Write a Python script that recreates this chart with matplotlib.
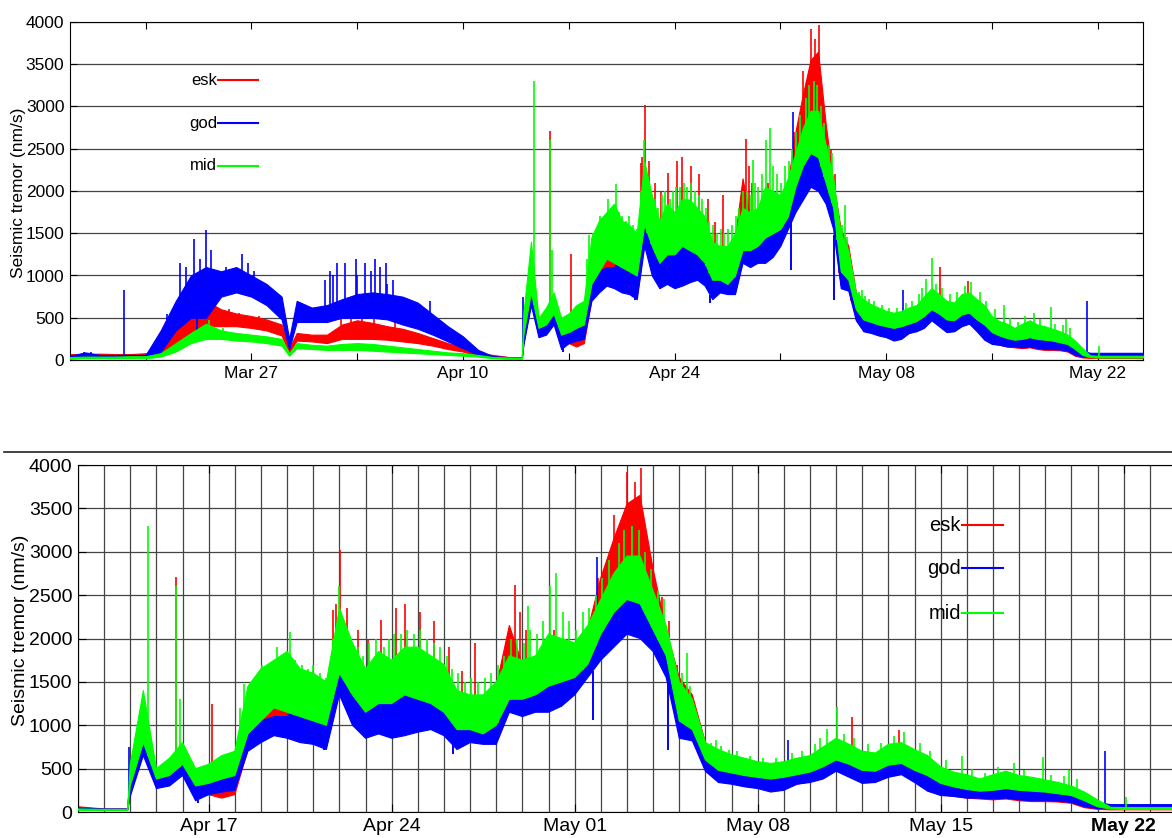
import numpy as np
import matplotlib
matplotlib.use("Agg")
import matplotlib.pyplot as plt
import matplotlib.dates as mdates
from matplotlib.lines import Line2D
from datetime import datetime

plt.rcParams["font.family"] = ["Liberation Sans", "DejaVu Sans"]

# time axis: days after 15 March 2010 (Apr D = 16 + D, May D = 46 + D)
start = mdates.date2num(datetime(2010, 3, 15))
t_days = np.r_[np.arange(0, 15), 14.5, np.arange(15, 30), 29.9, np.arange(30, 71.5, 0.5)]

# tremor envelopes (nm/s), low and high edge of each trace
esk_lo = [30, 40, 45, 40, 40, 40, 60, 150, 330, 400, 400, 400, 380, 350, 290, 90,
          230, 220, 200, 250, 250, 250, 240, 220, 200, 170, 130, 100, 50, 30, 20, 20,
          200, 700, 300, 320, 450, 180, 200, 160, 200, 720, 850, 950, 900, 850, 800, 750,
          1400, 1050, 900, 950, 900, 950, 950, 1000, 920, 750, 820, 800, 800, 1200, 1150, 1180,
          1200, 1250, 1400, 1600, 1800, 2000, 2200, 2200, 1900, 1600, 880, 850, 480, 350, 330, 300,
          280, 250, 260, 320, 350, 390, 480, 410, 340, 350, 410, 440, 350, 250, 200, 180,
          160, 150, 140, 150, 130, 120, 120, 115, 100, 50, 30, 25, 25, 25, 25, 25, 25, 25, 25]
esk_hi = [70, 70, 75, 70, 70, 80, 120, 350, 550, 700, 600, 550, 520, 480, 420, 140,
          320, 300, 300, 420, 470, 440, 400, 370, 320, 260, 200, 150, 80, 60, 35, 35,
          450, 1200, 450, 550, 750, 420, 450, 500, 550, 1150, 1300, 1500, 1450, 1350, 1300, 1250,
          2300, 1900, 1600, 1800, 1700, 1850, 1850, 1750, 1650, 1350, 1300, 1300, 1450, 2150, 1700, 1750,
          2000, 1950, 1900, 2100, 2700, 3150, 3550, 3650, 2800, 2100, 1550, 1350, 800, 650, 600, 560,
          520, 500, 520, 560, 600, 700, 800, 750, 650, 620, 720, 760, 650, 580, 460, 420,
          380, 340, 380, 410, 370, 350, 330, 300, 270, 200, 120, 45, 40, 40, 40, 40, 40, 40, 40]
god_lo = [20, 30, 25, 25, 30, 30, 100, 350, 500, 500, 750, 800, 750, 650, 480, 130,
          450, 450, 450, 500, 500, 500, 480, 420, 370, 300, 220, 140, 60, 25, 20, 20,
          180, 650, 270, 300, 420, 130, 200, 230, 250, 700, 800, 880, 850, 800, 780, 720,
          1350, 1000, 850, 900, 850, 880, 920, 950, 880, 720, 800, 780, 780, 1150, 1100, 1150,
          1150, 1220, 1350, 1550, 1750, 1900, 2050, 2000, 1850, 1550, 850, 820, 470, 340, 320, 290,
          270, 230, 250, 320, 340, 380, 470, 400, 330, 340, 400, 430, 340, 240, 190, 180,
          160, 160, 150, 160, 140, 130, 130, 125, 110, 60, 40, 55, 60, 60, 60, 60, 60, 60, 60]
god_hi = [50, 90, 60, 60, 60, 60, 350, 700, 1000, 1100, 1050, 1100, 1000, 900, 750, 250,
          700, 620, 650, 720, 780, 800, 780, 750, 680, 540, 400, 280, 120, 45, 35, 35,
          420, 950, 430, 470, 700, 350, 400, 420, 480, 950, 1050, 1100, 1100, 1250, 1200, 1150,
          1750, 1500, 1300, 1400, 1400, 1500, 1450, 1400, 1300, 1100, 1100, 1050, 1150, 1450, 1450, 1500,
          1600, 1650, 1700, 1850, 2100, 2350, 2700, 2900, 2300, 1900, 1100, 1000, 650, 530, 500, 470,
          450, 430, 450, 480, 510, 570, 650, 600, 530, 520, 590, 610, 530, 470, 380, 340,
          310, 290, 300, 320, 300, 290, 280, 260, 240, 180, 110, 85, 85, 85, 85, 85, 85, 85, 85]
mid_lo = [15, 20, 20, 20, 20, 20, 40, 100, 200, 250, 250, 230, 220, 200, 170, 50,
          140, 130, 120, 120, 120, 110, 100, 90, 80, 70, 60, 50, 40, 20, 15, 15,
          300, 800, 380, 420, 550, 300, 330, 380, 420, 900, 1050, 1200, 1150, 1100, 1050, 1000,
          1600, 1350, 1150, 1250, 1250, 1350, 1300, 1250, 1150, 950, 950, 900, 1000, 1300, 1300, 1350,
          1450, 1500, 1550, 1700, 2050, 2300, 2450, 2400, 2100, 1800, 1050, 950, 600, 480, 450, 420,
          400, 380, 400, 430, 460, 520, 600, 550, 480, 470, 540, 560, 480, 420, 330, 290,
          260, 240, 250, 270, 250, 240, 230, 210, 190, 130, 60, 35, 30, 30, 30, 30, 30, 30, 30]
mid_hi = [35, 40, 40, 40, 45, 45, 80, 200, 320, 430, 350, 320, 300, 280, 250, 80,
          200, 180, 170, 190, 200, 190, 170, 150, 130, 110, 90, 80, 60, 35, 30, 30,
          550, 1400, 500, 620, 800, 500, 550, 650, 700, 1450, 1650, 1750, 1850, 1650, 1600, 1500,
          2350, 1950, 1650, 1850, 1750, 1900, 1900, 1800, 1700, 1400, 1350, 1350, 1500, 1800, 1750, 1800,
          2050, 2000, 1950, 2150, 2450, 2750, 2950, 2950, 2550, 2150, 1500, 1300, 800, 720, 660, 620,
          580, 560, 580, 620, 650, 750, 850, 780, 700, 680, 780, 800, 720, 650, 520, 460,
          430, 380, 430, 470, 420, 400, 370, 340, 300, 230, 140, 55, 50, 50, 50, 50, 50, 50, 50]

# short bursts standing out of each trace (day, nm/s)
esk_spk_t = [8.8, 9.2, 9.6, 10.5, 11.2, 12.5, 17.9, 18.6, 19.3, 20.1, 21.5,
             31.75, 33.14, 37.75, 37.85, 38.02, 38.3, 38.7, 39.1, 39.6, 40.15, 40.5, 41.1, 41.6,
             42.2, 42.7, 43.2, 44.7, 44.9, 45.15, 46.2, 47.9, 48.5, 48.8, 49.0, 49.3, 49.55,
             49.8, 50.0, 50.35, 50.6, 50.9, 51.7, 57.6, 59.4]
esk_spk_v = [650, 750, 620, 600, 560, 520, 500, 520, 560, 520, 450,
             2710, 1250, 2330, 2400, 3020, 2350, 2100, 2000, 2210, 2350, 2400, 2300, 2200,
             1900, 1630, 1950, 2620, 2300, 2100, 2100, 2700, 3420, 3300, 3920, 3800, 3960,
             2900, 2520, 2480, 2200, 1700, 1020, 1100, 940]
god_spk_t = [0.9, 1.4, 3.6, 6.4, 6.7, 7.3, 7.7, 8.2, 8.6, 9.0, 9.3, 10.3, 11.4, 11.8, 12.2,
             16.9, 17.2, 17.4, 17.7, 18.2, 18.9, 19.0, 19.5, 19.9, 20.2, 20.5, 20.9, 21.0, 21.4,
             23.8, 29.95, 47.85, 55.15, 67.3]
god_spk_v = [90, 100, 830, 550, 500, 1150, 1100, 1430, 1200, 1540, 1300, 1100, 1260, 1150, 1050,
             950, 1050, 1000, 1150, 1150, 1200, 1000, 1150, 1050, 1200, 1100, 1150, 900, 950,
             700, 750, 2940, 830, 700]
mid_spk_t = [8.9, 9.2, 10.1,
             30.68, 31.75, 31.9, 34.2, 34.35, 34.6, 34.8, 35.05, 35.3, 35.6, 35.8, 36.1, 36.3,
             36.55, 36.8, 37.0, 37.25, 37.5, 37.75, 38.0, 38.2, 38.45, 38.7, 38.9, 39.15, 39.4,
             39.7, 39.9, 40.1, 40.35, 40.6, 40.85, 41.1, 41.35, 41.6, 41.85, 42.1, 42.3, 42.55,
             42.8, 43.05, 43.3, 43.55, 43.8, 44.05, 44.3, 44.55, 44.8, 45.05, 45.2, 45.3, 45.55,
             45.8, 46.05, 46.3, 46.55, 46.8, 47.05, 47.3, 47.55, 47.8, 48.05, 48.3, 48.7, 48.9,
             49.2, 49.45, 49.7, 49.9, 50.2, 50.4, 50.75, 51.1, 51.3, 51.4, 52.2, 52.4, 52.6,
             52.9, 53.2, 53.7, 54.2, 54.7, 55.3, 55.7, 56.2, 56.4, 56.65, 57.03, 57.3, 57.7,
             58.2, 58.7, 59.2, 59.6, 60.2, 60.6, 61.2, 61.8, 62.2, 62.7, 63.2, 63.8, 64.2, 64.9,
             65.2, 65.7, 65.9, 66.2, 68.1]
mid_spk_v = [420, 470, 380,
             3300, 2600, 1300, 1200, 1480, 1500, 1550, 1700, 1650, 1900, 1800, 2080, 1750,
             1700, 1650, 1700, 1600, 1550, 2000, 2600, 2100, 2000, 1900, 1800, 1950, 2000,
             1900, 2000, 2050, 2050, 2100, 2050, 2100, 2000, 1950, 1900, 1800, 1650, 1600,
             1500, 1550, 1500, 1550, 1600, 1700, 1800, 2000, 2000, 1950, 2370, 2100, 2050,
             2200, 2600, 2750, 2300, 2200, 2100, 2300, 2350, 2500, 2700, 2900, 3100, 3250,
             3300, 3250, 3000, 2800, 2550, 2450, 1700, 1600, 1830, 1450, 800, 830, 760,
             720, 700, 650, 620, 620, 680, 700, 780, 850, 960, 1210, 900, 850,
             780, 800, 880, 920, 800, 700, 600, 650, 500, 450, 520, 560, 480, 630,
             430, 420, 480, 380, 170]

# brief drops below the god trace (day, nm/s)
god_dip_t = [8.4, 32.6, 37.4, 42.35, 47.7, 50.55]
god_dip_v = [250, 100, 710, 670, 1060, 710]

stations = [
    ("esk", "#ff0000", esk_lo, esk_hi, esk_spk_t, esk_spk_v, [], []),
    ("god", "#0000ff", god_lo, god_hi, god_spk_t, god_spk_v, god_dip_t, god_dip_v),
    ("mid", "#00ff00", mid_lo, mid_hi, mid_spk_t, mid_spk_v, [], []),
]

x = start + t_days


def draw_traces(ax):
    for z, (name, col, lo, hi, st, sv, dt, dv) in enumerate(stations):
        ax.fill_between(x, lo, hi, color=col, lw=0.8, zorder=2 + z)
        ax.vlines(start + np.array(st), np.interp(st, t_days, lo), sv,
                  color=col, lw=1.2, zorder=2 + z)
        if dt:
            ax.vlines(start + np.array(dt), dv, np.interp(dt, t_days, lo),
                      color=col, lw=1.4, zorder=2 + z)


def draw_legend(ax, xt, ys, size):
    for (name, col, *_), y in zip(stations, ys):
        ax.text(xt, y, name, transform=ax.transAxes, ha="right", va="center", fontsize=size)
        ax.add_line(Line2D([xt + 0.001, xt + 0.038], [y, y], transform=ax.transAxes,
                           color=col, lw=1.5))


fig = plt.figure(figsize=(11.72, 8.38), dpi=100)

# upper panel: whole period
ax1 = fig.add_axes([70 / 1172, 1 - 360 / 838, 1073 / 1172, 338 / 838])
draw_traces(ax1)
ax1.set_xlim(start, start + 71)
ax1.set_ylim(0, 4000)
ax1.set_yticks(np.arange(0, 4001, 500))
ax1.grid(axis="y", color="#444444", lw=0.9)
ax1.set_axisbelow(True)
wk = start + np.arange(5, 71, 7)
ax1.set_xticks(wk)
ax1.set_xticklabels([mdates.num2date(v).strftime("%b %d") if i % 2 == 1 else ""
                     for i, v in enumerate(wk)])
ax1.tick_params(direction="in", top=True, right=True, length=5, labelsize=12.5, pad=4)
ax1.set_ylabel("Seismic tremor (nm/s)", fontsize=12.5)
ax1.yaxis.set_label_coords(-0.041, 0.494)
draw_legend(ax1, 0.137, [0.828, 0.701, 0.574], 12)

# lower panel: eruption period
ax2 = fig.add_axes([78 / 1172, 1 - 812 / 838, 1098 / 1172, 347 / 838])
draw_traces(ax2)
ax2.set_xlim(start + 28, start + 70)
ax2.set_ylim(0, 4000)
ax2.set_yticks(np.arange(0, 4001, 500))
ax2.set_xticks(start + np.arange(28, 71), minor=True)
lab = start + np.arange(33, 70, 7)
ax2.set_xticks(lab)
ax2.set_xticklabels([mdates.num2date(v).strftime("%b %d") for v in lab])
ax2.get_xticklabels()[-1].set_fontweight("bold")
ax2.grid(which="both", color="#444444", lw=0.9)
ax2.set_axisbelow(True)
ax2.tick_params(which="major", direction="in", top=True, length=6, labelsize=14, pad=4)
ax2.tick_params(which="minor", length=0)
ax2.set_ylabel("Seismic tremor (nm/s)", fontsize=14)
ax2.yaxis.set_label_coords(-0.045, 0.524)
draw_legend(ax2, 0.804, [0.827, 0.703, 0.573], 14.5)

fig.add_artist(Line2D([4 / 1172, 1], [1 - 452 / 838] * 2, transform=fig.transFigure,
                      color="#222222", lw=1.2))

fig.savefig("out.png", dpi=100)
